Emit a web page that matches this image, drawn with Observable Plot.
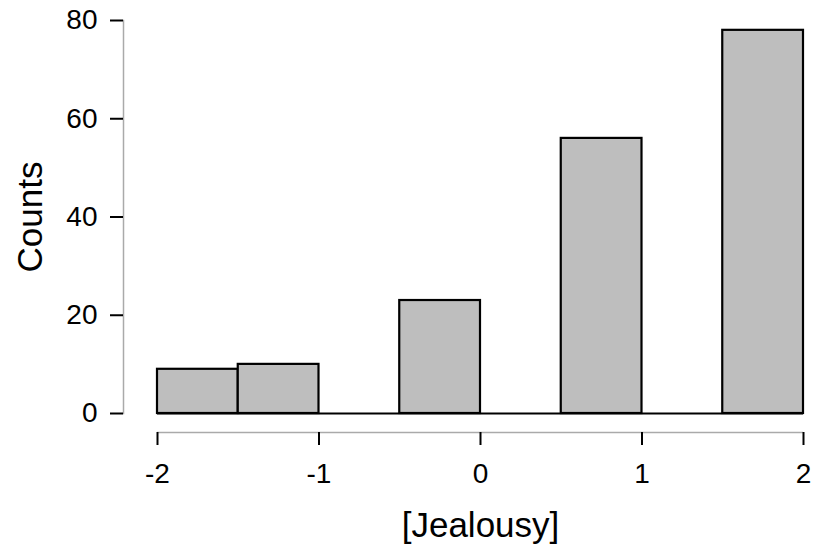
<!DOCTYPE html>
<html>
<head>
<meta charset="utf-8">
<script src="https://cdn.jsdelivr.net/npm/d3@7"></script>
<script src="https://cdn.jsdelivr.net/npm/@observablehq/plot@0.6"></script>
<style>
  body { margin: 0; background: #fff; }
  svg { font-family: "Liberation Sans", Arial, sans-serif; }
</style>
</head>
<body>
<div id="chart"></div>
<script>
const binStart = [-2, -1.5, -1, -0.5, 0, 0.5, 1, 1.5];
const binEnd   = [-1.5, -1, -0.5, 0, 0.5, 1, 1.5, 2];
const counts   = [9, 10, 0, 23, 0, 56, 0, 78];
const xTicks = [-2, -1, 0, 1, 2];
const yTicks = [0, 20, 40, 60, 80];
const xDomain = [-2, 2];

const bins = binStart.map((s, i) => ({x1: s, x2: binEnd[i], y: counts[i]}));

const chart = Plot.plot({
  width: 815,
  height: 551,
  marginLeft: 123,
  marginRight: 12,
  marginTop: 20,
  marginBottom: 138,
  style: {fontFamily: "Liberation Sans, Arial, sans-serif", background: "#fff"},
  x: {domain: xDomain, range: [157, 803]},
  y: {domain: [0, 80]},
  marks: [
    Plot.frame({anchor: "left", stroke: "#aaaaaa", strokeWidth: 1.5}),
    Plot.axisY(yTicks, {anchor: "left", tickSize: 13, tickPadding: 13, strokeWidth: 2, stroke: "#000", fontSize: 28, fill: "#000", label: null}),
    Plot.ruleY([0], {x1: () => xDomain[0], x2: () => xDomain[1], dy: 19, stroke: "#aaaaaa", strokeWidth: 1.5}),
    Plot.axisX(xTicks, {anchor: "bottom", tickSize: 13, tickPadding: 18, dy: 19, strokeWidth: 2, stroke: "#000", fontSize: 28, fill: "#000", label: null, tickFormat: d => String(d)}),
    Plot.ruleY([0], {x1: () => xDomain[0], x2: () => xDomain[1], stroke: "#000", strokeWidth: 2}),
    Plot.rectY(bins, {x1: "x1", x2: "x2", y: "y", fill: "#bebebe", stroke: "#000", strokeWidth: 2.2}),
    Plot.text(["[Jealousy]"], {frameAnchor: "bottom", dx: 17, dy: 112, fontSize: 35, fill: "#000", text: d => d, lineAnchor: "middle", textAnchor: "middle"}),
    Plot.text(["Counts"], {frameAnchor: "left", dx: -93, rotate: -90, fontSize: 35, fill: "#000", text: d => d, textAnchor: "middle"})
  ]
});
document.getElementById("chart").appendChild(chart);
</script>
</body>
</html>
